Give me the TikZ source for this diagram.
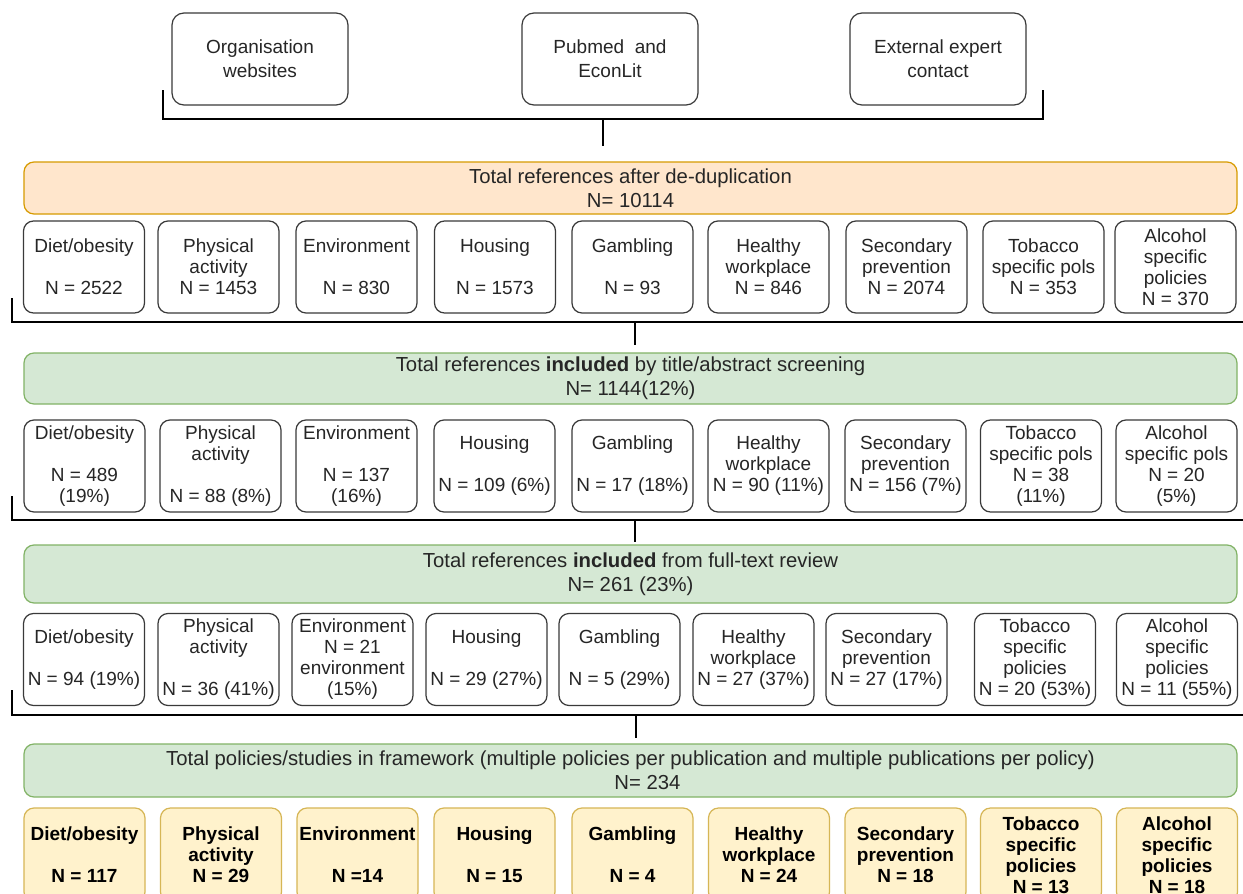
\documentclass[tikz,border=0pt]{standalone}
\usepackage{fontspec}
\setmainfont{Liberation Sans}
\definecolor{boxline}{HTML}{3A3A3A}
\definecolor{txt}{HTML}{262626}
\definecolor{orfill}{HTML}{FFE6CC}
\definecolor{ordraw}{HTML}{D79B00}
\definecolor{grfill}{HTML}{D5E8D4}
\definecolor{grdraw}{HTML}{82B366}
\definecolor{yefill}{HTML}{FFF2CC}
\definecolor{yedraw}{HTML}{D6B656}
\begin{document}
\begin{tikzpicture}[x=1pt,y=-1pt,
  src/.style={draw=boxline, line width=1.2pt, rounded corners=12pt, minimum width=176pt, minimum height=92pt, align=center, font=\fontsize{19}{24}\selectfont, text=txt, inner sep=0pt},
  cat/.style={draw=boxline, line width=1.2pt, rounded corners=10pt, minimum width=121pt, minimum height=92pt, align=center, font=\fontsize{19}{21}\selectfont, text=txt, inner sep=0pt},
  fin/.style={cat, draw=yedraw, fill=yefill, minimum height=94pt, font=\fontsize{19}{21}\selectfont\bfseries, text=black},
  band/.style={rounded corners=10pt, line width=1.2pt, minimum width=1213pt, align=center, font=\fontsize{20.3}{24}\selectfont, text=txt, inner sep=0pt},
  orband/.style={band, draw=ordraw, fill=orfill},
  grband/.style={band, draw=grdraw, fill=grfill},
  bracket/.style={draw=black, line width=2.6pt},
  stem/.style={draw=black, line width=2.4pt}
]
\useasboundingbox (0,0) rectangle (1243,894);
\clip (0,0) rectangle (1243,894);
\fill[white] (0,0) rectangle (1243,894);

% sources
\node[src] (s1) at (260,59) {Organisation\\websites};
\node[src] (s2) at (610,59) {Pubmed\ \ and\\EconLit};
\node[src] (s3) at (938,59) {External expert\\contact};

% top bracket
\coordinate (t0a) at (163,90);
\coordinate (t0b) at (163,119);
\coordinate (t0c) at (1043,119);
\coordinate (t0d) at (1043,90);
\coordinate (t0m) at (603,119);
\coordinate (t0e) at (603,146);
\draw[bracket] (t0a) -- (t0b) -- (t0c) -- (t0d);
\draw[stem] (t0m) -- (t0e);

% band 1
\node[orband, minimum height=52pt] (b1) at (630.5,188) {Total references after de-duplication\\N= 10114};

% row 1
\node[cat] (r1a) at (84,267) {Diet/obesity\\~\\N = 2522};
\node[cat] (r1b) at (218.5,267) {Physical\\activity\\N = 1453};
\node[cat] (r1c) at (356.5,267) {Environment\\~\\N = 830};
\node[cat] (r1d) at (495,267) {Housing\\~\\N = 1573};
\node[cat] (r1e) at (632.5,267) {Gambling\\~\\N = 93};
\node[cat] (r1f) at (768.5,267) {Healthy\\workplace\\N = 846};
\node[cat] (r1g) at (906.5,267) {Secondary\\prevention\\N = 2074};
\node[cat] (r1h) at (1043.5,267) {Tobacco\\specific pols\\N = 353};
\node[cat] (r1i) at (1175.5,267) {Alcohol\\specific\\policies\\N = 370};

\coordinate (k1a) at (12,298);
\coordinate (k1b) at (12,322);
\coordinate (k1c) at (1245,322);
\coordinate (k1m) at (635,322);
\coordinate (k1e) at (635,345);
\draw[bracket] (k1a) -- (k1b) -- (k1c);
\draw[stem] (k1m) -- (k1e);

% band 2
\node[grband, minimum height=51pt] (b2) at (630.5,378.5) {Total references \textbf{included} by title/abstract screening\\N= 1144(12\%)};

% row 2
\node[cat] (r2a) at (84.5,466) {Diet/obesity\\~\\N = 489\\(19\%)};
\node[cat] (r2b) at (220.5,466) {Physical\\activity\\~\\N = 88 (8\%)};
\node[cat] (r2c) at (356.5,466) {Environment\\~\\N = 137\\(16\%)};
\node[cat] (r2d) at (494.5,466) {Housing\\~\\N = 109 (6\%)};
\node[cat] (r2e) at (632.5,466) {Gambling\\~\\N = 17 (18\%)};
\node[cat] (r2f) at (768.5,466) {Healthy\\workplace\\N = 90 (11\%)};
\node[cat] (r2g) at (905.5,466) {Secondary\\prevention\\N = 156 (7\%)};
\node[cat] (r2h) at (1041,466) {Tobacco\\specific pols\\N = 38\\(11\%)};
\node[cat] (r2i) at (1176.5,466) {Alcohol\\specific pols\\N = 20\\(5\%)};

\coordinate (k2a) at (12,496);
\coordinate (k2b) at (12,520);
\coordinate (k2c) at (1245,520);
\coordinate (k2m) at (635,520);
\coordinate (k2e) at (635,542);
\draw[bracket] (k2a) -- (k2b) -- (k2c);
\draw[stem] (k2m) -- (k2e);

% band 3
\node[grband, minimum height=58pt] (b3) at (630.5,574) {Total references \textbf{included} from full-text review\\N= 261 (23\%)};

% row 3
\node[cat] (r3a) at (84,659.5) {Diet/obesity\\~\\N = 94 (19\%)};
\node[cat] (r3b) at (218.5,659.5) {Physical\\activity\\~\\N = 36 (41\%)};
\node[cat] (r3c) at (352.5,659.5) {Environment\\N = 21\\environment\\(15\%)};
\node[cat] (r3d) at (486.5,659.5) {Housing\\~\\N = 29 (27\%)};
\node[cat] (r3e) at (619.5,659.5) {Gambling\\~\\N = 5 (29\%)};
\node[cat] (r3f) at (753.5,659.5) {Healthy\\workplace\\N = 27 (37\%)};
\node[cat] (r3g) at (886.5,659.5) {Secondary\\prevention\\N = 27 (17\%)};
\node[cat] (r3h) at (1035,659.5) {Tobacco\\specific\\policies\\N = 20 (53\%)};
\node[cat] (r3i) at (1177,659.5) {Alcohol\\specific\\policies\\N = 11 (55\%)};

\coordinate (k3a) at (12,690);
\coordinate (k3b) at (12,715);
\coordinate (k3c) at (1245,715);
\coordinate (k3m) at (636,715);
\coordinate (k3e) at (636,738);
\draw[bracket] (k3a) -- (k3b) -- (k3c);
\draw[stem] (k3m) -- (k3e);

% band 4
\node[grband, minimum height=53pt] (b4) at (630.5,770.5) {Total policies/studies in framework (multiple policies per publication and multiple publications per policy)\\\hspace*{34pt}N= 234};

% row 4
\node[fin] (r4a) at (84.5,855) {Diet/obesity\\~\\N = 117};
\node[fin] (r4b) at (221,855) {Physical\\activity\\N = 29};
\node[fin] (r4c) at (357.5,855) {Environment\\~\\N =14};
\node[fin] (r4d) at (494.5,855) {Housing\\~\\N = 15};
\node[fin] (r4e) at (632.5,855) {Gambling\\~\\N = 4};
\node[fin] (r4f) at (769,855) {Healthy\\workplace\\N = 24};
\node[fin] (r4g) at (905.5,855) {Secondary\\prevention\\N = 18};
\node[fin] (r4h) at (1041,855) {Tobacco\\specific\\policies\\N = 13};
\node[fin] (r4i) at (1177,855) {Alcohol\\specific\\policies\\N = 18};
\end{tikzpicture}
\end{document}
